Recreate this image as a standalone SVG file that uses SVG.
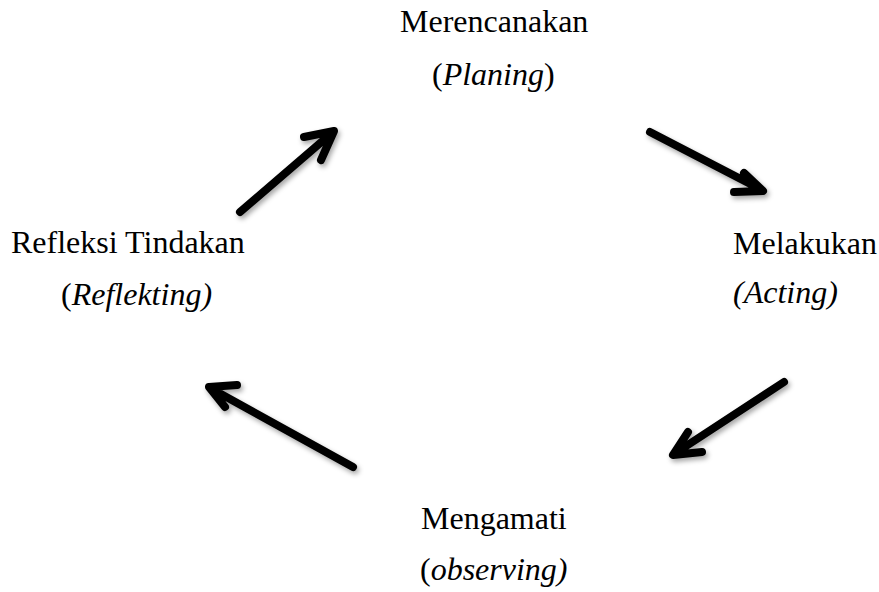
<svg xmlns="http://www.w3.org/2000/svg" width="879" height="592" viewBox="0 0 879 592">
<style>
text{font-family:"Liberation Serif","Times New Roman",serif;font-size:32px;fill:#000}
.i{font-style:italic}
.a{fill:none;stroke:#000;stroke-width:8;stroke-linecap:round;stroke-linejoin:round}
</style>
<defs>
<filter id="sh" x="-20%" y="-20%" width="140%" height="140%">
<feDropShadow dx="2" dy="3" stdDeviation="2.5" flood-color="#000" flood-opacity="0.35"/>
</filter>
</defs>
<rect width="879" height="592" fill="#fff"/>
<g id="planning">
<text x="400" y="32">Merencanakan</text>
<text x="432" y="85">(<tspan class="i">Planing</tspan>)</text>
</g>
<g id="acting">
<text x="733" y="254">Melakukan</text>
<text x="733" y="303" class="i">(Acting)</text>
</g>
<g id="observing">
<text x="421" y="529">Mengamati</text>
<text x="420" y="580">(<tspan class="i">observing)</tspan></text>
</g>
<g id="reflecting">
<text x="11" y="253">Refleksi Tindakan</text>
<text x="61" y="305">(<tspan class="i">Reflekting)</tspan></text>
</g>
<g id="connectors" filter="url(#sh)">
<path class="a" d="M240,212 L333,132 M304,137 L334,131 L321,160"/>
<path class="a" d="M650,132 L762,190 M744,173 L763,191 L734,192"/>
<path class="a" d="M784,382 L674,454 M688,432 L673,455 L702,452"/>
<path class="a" d="M353,467 L210,388 M237,385 L209,387 L225,407"/>
</g>
</svg>
